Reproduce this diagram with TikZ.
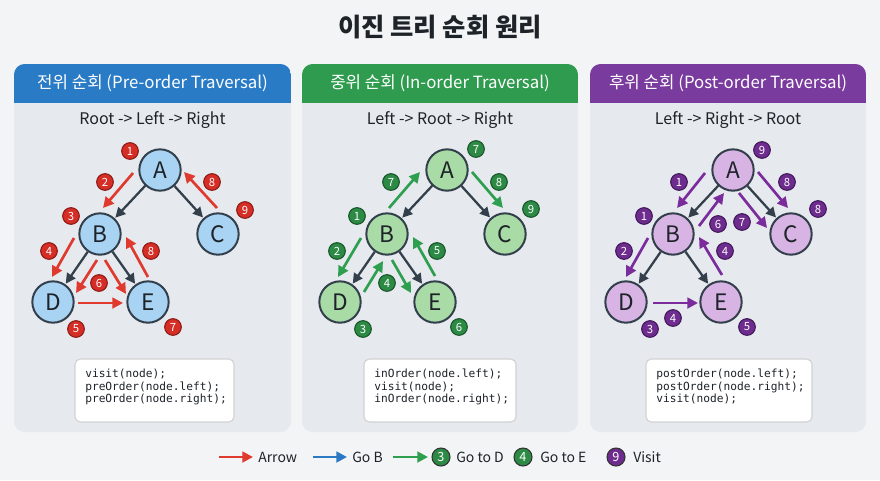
\documentclass[tikz,border=0pt]{standalone}
\usepackage{fontspec}
\setmainfont{Noto Sans CJK KR}
\newfontfamily\codefont{DejaVu Sans Mono}
\usetikzlibrary{arrows.meta}
\definecolor{bg}{HTML}{F2F4F6}
\definecolor{panel}{HTML}{E6E9EE}
\definecolor{hblue}{HTML}{2A7BC6}
\definecolor{hgreen}{HTML}{2F9B4E}
\definecolor{hpurple}{HTML}{7A3B9E}
\definecolor{nblue}{HTML}{A9D3F3}
\definecolor{ngreen}{HTML}{A8DBA6}
\definecolor{npurple}{HTML}{D8B4E4}
\definecolor{edgec}{HTML}{33404C}
\definecolor{ared}{HTML}{E0392E}
\definecolor{agreen}{HTML}{2E9E4F}
\definecolor{apurple}{HTML}{7B2C9C}
\definecolor{ablue}{HTML}{2B78C5}
\definecolor{bred}{HTML}{D42E26}
\definecolor{bredD}{HTML}{8E1A15}
\definecolor{bgreen}{HTML}{2C8A45}
\definecolor{bgreenD}{HTML}{17552A}
\definecolor{bpurple}{HTML}{6E2C8E}
\definecolor{bpurpleD}{HTML}{40185A}
\definecolor{txt}{HTML}{1E2329}
\tikzset{
  tnode/.style={circle,draw=edgec,line width=1.5pt,minimum size=31pt,inner sep=0pt,
    font=\fontsize{17}{20}\selectfont,text=txt},
  edge/.style={draw=edgec,line width=1.7pt,-{Triangle[length=7.5pt,width=7.5pt]},shorten >=0.5pt},
  carr/.style={line width=2pt,-{Triangle[length=8pt,width=8pt]}},
  badge/.style={circle,line width=0.8pt,minimum size=12.5pt,inner sep=0pt,
    font=\fontsize{8.5}{9}\selectfont,text=white},
  code/.style={anchor=north west,align=left,inner sep=0pt,
    font=\codefont\fontsize{8.4}{9.2}\selectfont,text=txt},
  codebox/.style={fill=white,draw=black!18,line width=0.8pt,rounded corners=4pt},
  htext/.style={text=white,font=\fontsize{12.6}{15}\selectfont},
  stext/.style={text=txt,font=\fontsize{12}{14}\selectfont},
  ltext/.style={text=txt,font=\fontsize{10.5}{12}\selectfont,anchor=west,inner sep=0pt}
}
\newcommand\mytree[2]{%
  \node[tnode,fill=#2] (#1A) at (160,170) {A};
  \node[tnode,fill=#2] (#1B) at (100,234) {B};
  \node[tnode,fill=#2] (#1C) at (218,234) {C};
  \node[tnode,fill=#2] (#1D) at (53,302) {D};
  \node[tnode,fill=#2] (#1E) at (148,302) {E};
  \draw[edge] (#1A) -- (#1B);
  \draw[edge] (#1A) -- (#1C);
  \draw[edge] (#1B) -- (#1D);
  \draw[edge] (#1B) -- (#1E);
}
\newcommand\carrow[3]{\coordinate (#1s) at (#2); \coordinate (#1e) at (#3); \draw[carr] (#1s) -- (#1e);}
\newcommand\bd[3]{\node[badge] (#1) at (#2) {#3};}
\newcommand\mypanel[3]{%
  \fill[panel,rounded corners=8pt] (#1,64) rectangle (#2,432);
  \begin{scope}
    \clip[rounded corners=8pt] (#1,64) rectangle (#2,432);
    \fill[#3] (#1,64) rectangle (#2,103);
  \end{scope}
}
\begin{document}
\begin{tikzpicture}[x=0.75pt,y=-0.75pt]
\useasboundingbox (0,0) rectangle (880,480);
\fill[bg] (0,0) rectangle (880,480);

\node[text=txt,font=\bfseries\fontsize{19}{22}\selectfont] (title) at (440,27) {이진 트리 순회 원리};

% panels
\mypanel{14}{291}{hblue}
\mypanel{302}{578}{hgreen}
\mypanel{590}{866}{hpurple}

\node[htext] (h1) at (152.5,83) {전위 순회 (Pre-order Traversal)};
\node[htext] (h2) at (440,83) {중위 순회 (In-order Traversal)};
\node[htext] (h3) at (728,83) {후위 순회 (Post-order Traversal)};

\node[stext] (s1) at (152.5,120) {Root -> Left -> Right};
\node[stext] (s2) at (440,120) {Left -> Root -> Right};
\node[stext] (s3) at (728,120) {Left -> Right -> Root};

% ---------- panel 1 ----------
\begin{scope}[carr/.append style={draw=ared},badge/.append style={fill=bred,draw=bredD}]
  \mytree{p}{nblue}
  \carrow{pa1}{133,173}{103,208}
  \carrow{pa2}{217,208}{184,172}
  \carrow{pa3}{74,238}{52,277}
  \carrow{pa4}{148,277}{126,237}
  \carrow{pa5}{97,260}{76,293}
  \carrow{pa6}{105,260}{126,294}
  \carrow{pa7}{78,303}{123,303}
  \bd{pb1}{130,151}{1}
  \bd{pb2}{105,182}{2}
  \bd{pb3}{212,182}{8}
  \bd{pb4}{245,210}{9}
  \bd{pb5}{71,216}{3}
  \bd{pb6}{49,251}{4}
  \bd{pb7}{151,251}{8}
  \bd{pb8}{99,283}{6}
  \bd{pb9}{76,329}{5}
  \bd{pb10}{173,327}{7}
\end{scope}

% ---------- panel 2 ----------
\begin{scope}[shift={(287,0)},carr/.append style={draw=agreen},badge/.append style={fill=bgreen,draw=bgreenD}]
  \mytree{q}{ngreen}
  \carrow{qa1}{102,208}{133,172}
  \carrow{qa2}{185,172}{216,208}
  \carrow{qa3}{74,238}{51,277}
  \carrow{qa4}{77,292}{96,261}
  \carrow{qa5}{105,260}{124,293}
  \carrow{qa6}{148,276}{126,237}
  \bd{qb1}{189,149}{7}
  \bd{qb2}{104,182}{7}
  \bd{qb3}{212,182}{8}
  \bd{qb4}{244,209}{9}
  \bd{qb5}{70,216}{1}
  \bd{qb6}{50,251}{2}
  \bd{qb7}{150,251}{5}
  \bd{qb8}{100,283}{4}
  \bd{qb9}{76,329}{3}
  \bd{qb10}{172,327}{6}
\end{scope}

% ---------- panel 3 ----------
\begin{scope}[shift={(573,0)},carr/.append style={draw=apurple},badge/.append style={fill=bpurple,draw=bpurpleD}]
  \mytree{r}{npurple}
  \carrow{ra1}{132,173}{104,208}
  \carrow{ra2}{185,172}{215,208}
  \carrow{ra3}{126,226}{151,193}
  \carrow{ra4}{166,193}{194,228}
  \carrow{ra5}{75,238}{53,277}
  \carrow{ra6}{149,275}{126,237}
  \carrow{ra7}{80,303}{125,303}
  \bd{rb1}{189,150}{9}
  \bd{rb2}{106,182}{1}
  \bd{rb3}{214,182}{8}
  \bd{rb4}{245,209}{8}
  \bd{rb5}{71,216}{1}
  \bd{rb6}{145,224}{6}
  \bd{rb7}{169,222}{7}
  \bd{rb8}{51,251}{2}
  \bd{rb9}{152,251}{4}
  \bd{rb10}{100,318}{4}
  \bd{rb11}{77,329}{3}
  \bd{rb12}{174,327}{5}
\end{scope}

% ---------- code boxes ----------
\draw[codebox] (75,359) rectangle (234,422);
\node[code] (c1) at (85,369) {visit(node);\\preOrder(node.left);\\preOrder(node.right);};
\draw[codebox] (364,359) rectangle (516,422);
\node[code] (c2) at (374,369) {inOrder(node.left);\\visit(node);\\inOrder(node.right);};
\draw[codebox] (646,359) rectangle (812,422);
\node[code] (c3) at (656,369) {postOrder(node.left);\\postOrder(node.right);\\visit(node);};

% ---------- legend ----------
\coordinate (l1s) at (219,457); \coordinate (l1e) at (253,457);
\draw[carr,draw=ared] (l1s) -- (l1e);
\node[ltext] (lt1) at (258,457) {Arrow};
\coordinate (l2s) at (313,457); \coordinate (l2e) at (347,457);
\draw[carr,draw=ablue] (l2s) -- (l2e);
\node[ltext] (lt2) at (352,457) {Go B};
\coordinate (l3s) at (393,457); \coordinate (l3e) at (428,457);
\draw[carr,draw=agreen] (l3s) -- (l3e);
\node[badge,fill=bgreen,draw=black!80,minimum size=13.5pt,font=\fontsize{9.5}{10}\selectfont] (lb1) at (441,457) {3};
\node[ltext] (lt3) at (456,457) {Go to D};
\node[badge,fill=bgreen,draw=black!80,minimum size=13.5pt,font=\fontsize{9.5}{10}\selectfont] (lb2) at (523,457) {4};
\node[ltext] (lt4) at (540,457) {Go to E};
\node[badge,fill=bpurple,draw=black!80,minimum size=13.5pt,font=\fontsize{9.5}{10}\selectfont] (lb3) at (616,457) {9};
\node[ltext] (lt5) at (633,457) {Visit};
\end{tikzpicture}
\end{document}
